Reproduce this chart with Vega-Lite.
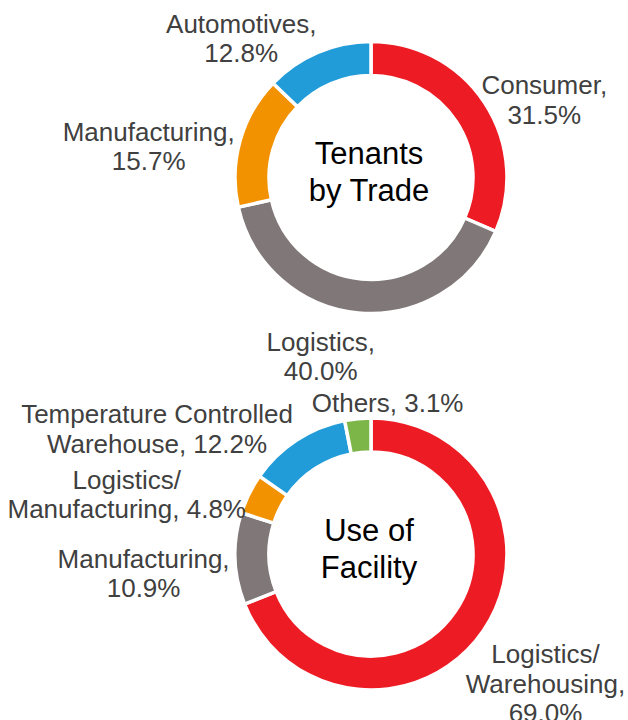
{
  "$schema": "https://vega.github.io/schema/vega-lite/v6.json",
  "autosize": {"type": "none"},
  "padding": {"left": 114, "top": 0, "right": 0, "bottom": 0},
  "width": 514,
  "height": 720,
  "config": {"view": {"stroke": null}, "font": "Liberation Sans"},
  "resolve": {"scale": {"color": "independent"}},
  "datasets": {
    "trade": [
      {"chart": "Tenants by Trade", "category": "Consumer", "value": 31.5, "label": "Consumer,\n31.5%"},
      {"chart": "Tenants by Trade", "category": "Logistics", "value": 40.0, "label": "Logistics,\n40.0%"},
      {"chart": "Tenants by Trade", "category": "Manufacturing", "value": 15.7, "label": "Manufacturing,\n15.7%"},
      {"chart": "Tenants by Trade", "category": "Automotives", "value": 12.8, "label": "Automotives,\n12.8%"}
    ],
    "facility": [
      {"chart": "Use of Facility", "category": "Logistics/Warehousing", "value": 69.0, "label": "Logistics/\nWarehousing,\n69.0%"},
      {"chart": "Use of Facility", "category": "Manufacturing", "value": 10.9, "label": "Manufacturing,\n10.9%"},
      {"chart": "Use of Facility", "category": "Logistics/Manufacturing", "value": 4.8, "label": "Logistics/\nManufacturing, 4.8%"},
      {"chart": "Use of Facility", "category": "Temperature Controlled Warehouse", "value": 12.2, "label": "Temperature Controlled\nWarehouse, 12.2%"},
      {"chart": "Use of Facility", "category": "Others", "value": 3.1, "label": "Others, 3.1%"}
    ],
    "titles": [
      {"chart": "Tenants by Trade", "title": "Tenants\nby Trade"},
      {"chart": "Use of Facility", "title": "Use of\nFacility"}
    ]
  },
  "layer": [
    {
      "data": {"name": "trade"},
      "transform": [{"window": [{"op": "row_number", "as": "rank"}]}],
      "mark": {"type": "arc", "innerRadius": 102, "outerRadius": 136, "stroke": "#ffffff", "strokeWidth": 3.5},
      "encoding": {
        "y": {"field": "chart", "type": "nominal", "axis": null, "scale": {"type": "point", "padding": 0, "domain": ["Tenants by Trade", "Use of Facility"], "range": [177.5, 554]}},
        "theta": {"field": "value", "type": "quantitative", "stack": true},
        "order": {"field": "rank", "type": "quantitative"},
        "color": {
          "field": "category", "type": "nominal", "legend": null,
          "scale": {"domain": ["Consumer", "Logistics", "Manufacturing", "Automotives"], "range": ["#ED1C24", "#807878", "#F39200", "#229CD8"]}
        }
      }
    },
    {
      "data": {"name": "facility"},
      "transform": [{"window": [{"op": "row_number", "as": "rank"}]}],
      "mark": {"type": "arc", "innerRadius": 102, "outerRadius": 136, "stroke": "#ffffff", "strokeWidth": 3.5},
      "encoding": {
        "y": {"field": "chart", "type": "nominal", "axis": null, "scale": {"type": "point", "padding": 0, "domain": ["Tenants by Trade", "Use of Facility"], "range": [177.5, 554]}},
        "theta": {"field": "value", "type": "quantitative", "stack": true},
        "order": {"field": "rank", "type": "quantitative"},
        "color": {
          "field": "category", "type": "nominal", "legend": null,
          "scale": {"domain": ["Logistics/Warehousing", "Manufacturing", "Logistics/Manufacturing", "Temperature Controlled Warehouse", "Others"], "range": ["#ED1C24", "#807878", "#F39200", "#229CD8", "#7CB649"]}
        }
      }
    },
    {
      "data": {"name": "trade"},
      "transform": [{"window": [{"op": "row_number", "as": "rank"}]}],
      "mark": {
        "type": "text", "radius": 140, "fontSize": 26, "lineHeight": 29.5, "lineBreak": "\n",
        "align": "center", "baseline": "middle", "color": "#404040",
        "dx": {"expr": "abs(sin(PI*(datum.value_start+datum.value_end)/100))>=0.35 ? min(width/2+sin(PI*(datum.value_start+datum.value_end)/100)*140+(sin(PI*(datum.value_start+datum.value_end)/100)>0?1:-1)*(12.5*max(length(split(datum.label,'\\n')[0]),length(split(datum.label,'\\n')[1]||''),length(split(datum.label,'\\n')[2]||'')))/2,width-0.55*(12.5*max(length(split(datum.label,'\\n')[0]),length(split(datum.label,'\\n')[1]||''),length(split(datum.label,'\\n')[2]||''))))-(width/2+sin(PI*(datum.value_start+datum.value_end)/100)*140) : sin(PI*(datum.value_start+datum.value_end)/100)*(12.5*max(length(split(datum.label,'\\n')[0]),length(split(datum.label,'\\n')[1]||''),length(split(datum.label,'\\n')[2]||'')))/2+(cos(PI*(datum.value_start+datum.value_end)/100)>0?1:-1)*(12.5*max(length(split(datum.label,'\\n')[0]),length(split(datum.label,'\\n')[1]||''),length(split(datum.label,'\\n')[2]||'')))/4"},
        "dy": {"expr": "-cos(PI*(datum.value_start+datum.value_end)/100)*((length(split(datum.label,'\\n'))-1)*29.5+22)/2"}
      },
      "encoding": {
        "y": {"field": "chart", "type": "nominal", "axis": null, "scale": {"type": "point", "padding": 0, "domain": ["Tenants by Trade", "Use of Facility"], "range": [177.5, 554]}},
        "theta": {"field": "value", "type": "quantitative", "stack": true},
        "order": {"field": "rank", "type": "quantitative"},
        "detail": {"field": "category", "type": "nominal"},
        "text": {"field": "label", "type": "nominal"}
      }
    },
    {
      "data": {"name": "facility"},
      "transform": [{"window": [{"op": "row_number", "as": "rank"}]}],
      "mark": {
        "type": "text", "radius": 140, "fontSize": 26, "lineHeight": 29.5, "lineBreak": "\n",
        "align": "center", "baseline": "middle", "color": "#404040",
        "dx": {"expr": "abs(sin(PI*(datum.value_start+datum.value_end)/100))>=0.35 ? min(width/2+sin(PI*(datum.value_start+datum.value_end)/100)*140+(sin(PI*(datum.value_start+datum.value_end)/100)>0?1:-1)*(12.5*max(length(split(datum.label,'\\n')[0]),length(split(datum.label,'\\n')[1]||''),length(split(datum.label,'\\n')[2]||'')))/2,width-0.55*(12.5*max(length(split(datum.label,'\\n')[0]),length(split(datum.label,'\\n')[1]||''),length(split(datum.label,'\\n')[2]||''))))-(width/2+sin(PI*(datum.value_start+datum.value_end)/100)*140) : sin(PI*(datum.value_start+datum.value_end)/100)*(12.5*max(length(split(datum.label,'\\n')[0]),length(split(datum.label,'\\n')[1]||''),length(split(datum.label,'\\n')[2]||'')))/2+(cos(PI*(datum.value_start+datum.value_end)/100)>0?1:-1)*(12.5*max(length(split(datum.label,'\\n')[0]),length(split(datum.label,'\\n')[1]||''),length(split(datum.label,'\\n')[2]||'')))/4"},
        "dy": {"expr": "-cos(PI*(datum.value_start+datum.value_end)/100)*((length(split(datum.label,'\\n'))-1)*29.5+22)/2"}
      },
      "encoding": {
        "y": {"field": "chart", "type": "nominal", "axis": null, "scale": {"type": "point", "padding": 0, "domain": ["Tenants by Trade", "Use of Facility"], "range": [177.5, 554]}},
        "theta": {"field": "value", "type": "quantitative", "stack": true},
        "order": {"field": "rank", "type": "quantitative"},
        "detail": {"field": "category", "type": "nominal"},
        "text": {"field": "label", "type": "nominal"}
      }
    },
    {
      "data": {"name": "titles"},
      "mark": {"type": "text", "fontSize": 31, "lineHeight": 37, "lineBreak": "\n", "align": "center", "baseline": "middle", "color": "#000000", "dy": -22.5, "dx": -2},
      "encoding": {
        "y": {"field": "chart", "type": "nominal", "axis": null, "scale": {"type": "point", "padding": 0, "domain": ["Tenants by Trade", "Use of Facility"], "range": [177.5, 554]}},
        "text": {"field": "title", "type": "nominal"}
      }
    }
  ]
}
